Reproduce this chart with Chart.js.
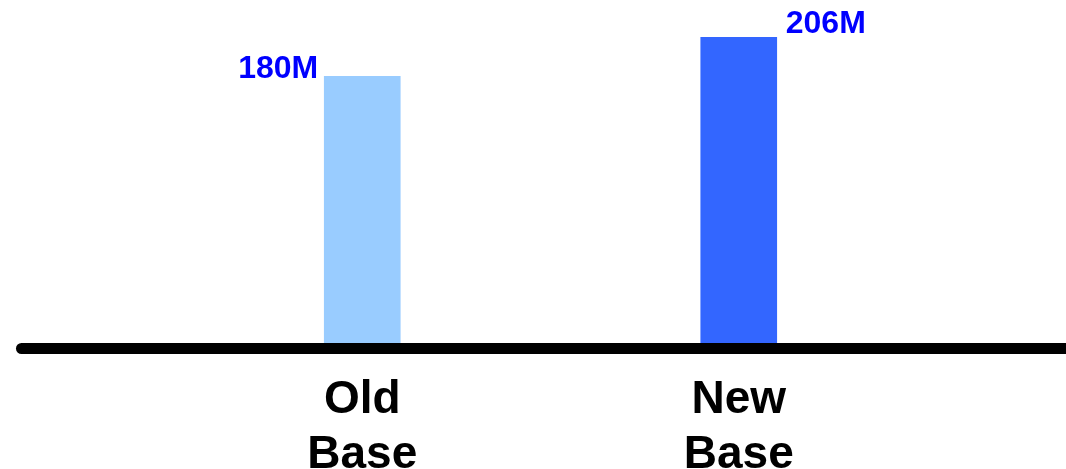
<!DOCTYPE html>
<html>
<head>
<meta charset="utf-8">
<script src="https://cdn.jsdelivr.net/npm/chart.js@4/dist/chart.umd.min.js"></script>
<style>
  html, body { margin: 0; padding: 0; background: #ffffff; }
  #wrap { width: 1066px; height: 469px; position: relative; }
</style>
</head>
<body>
<div id="wrap"><canvas id="chart"></canvas></div>
<script>
// Categories and values (millions)
const categories = [["Old", "Base"], ["New", "Base"]];
const values = [180, 206];
const valueLabels = ["180M", "206M"];
const barColors = ["#99CCFF", "#3366FF"];

// Draws the value text beside each bar top: first one on the left, second on the right
const valueLabelPlugin = {
  id: "valueLabels",
  afterDatasetsDraw(chart, args, opts) {
    const ctx = chart.ctx;
    const meta = chart.getDatasetMeta(0);
    ctx.save();
    ctx.font = opts.font;
    ctx.fillStyle = opts.color;
    ctx.textBaseline = "alphabetic";
    meta.data.forEach((bar, i) => {
      const side = opts.sides[i];
      const half = bar.width / 2;
      if (side === "left") {
        ctx.textAlign = "right";
        ctx.fillText(valueLabels[i], bar.x - half - 6, bar.y + 2);
      } else {
        ctx.textAlign = "left";
        ctx.fillText(valueLabels[i], bar.x + half + 9, bar.y - 4);
      }
    });
    ctx.restore();
  }
};

// Heavy rounded axis line along the zero level
const baseLinePlugin = {
  id: "baseLine",
  afterDatasetsDraw(chart) {
    const ctx = chart.ctx;
    const y = chart.scales.y.getPixelForValue(0) + 2.5;
    ctx.save();
    ctx.strokeStyle = "#000000";
    ctx.lineWidth = 11;
    ctx.lineCap = "round";
    ctx.beginPath();
    ctx.moveTo(21.5, y);
    ctx.lineTo(chart.width + 20, y);
    ctx.stroke();
    ctx.restore();
  }
};

new Chart(document.getElementById("chart"), {
  type: "bar",
  data: {
    labels: categories,
    datasets: [{
      data: values,
      backgroundColor: barColors,
      borderWidth: 0,
      barThickness: 76
    }]
  },
  options: {
    responsive: true,
    maintainAspectRatio: false,
    animation: false,
    layout: { padding: { left: 174, right: 139, top: 0, bottom: 0 } },
    plugins: {
      legend: { display: false },
      tooltip: { enabled: false },
      valueLabels: {
        font: "bold 32px 'Liberation Sans', Arial, sans-serif",
        color: "#0000FF",
        sides: ["left", "right"]
      }
    },
    scales: {
      x: {
        grid: { display: false, drawTicks: false },
        border: { display: false },
        ticks: {
          color: "#000000",
          padding: 27,
          font: { family: "'Liberation Sans', Arial, sans-serif", size: 46, weight: "bold", lineHeight: 1.2 }
        },
        afterFit(scale) { scale.height = 123; }
      },
      y: {
        display: false,
        min: 0,
        max: 231
      }
    }
  },
  plugins: [valueLabelPlugin, baseLinePlugin]
});
</script>
</body>
</html>
